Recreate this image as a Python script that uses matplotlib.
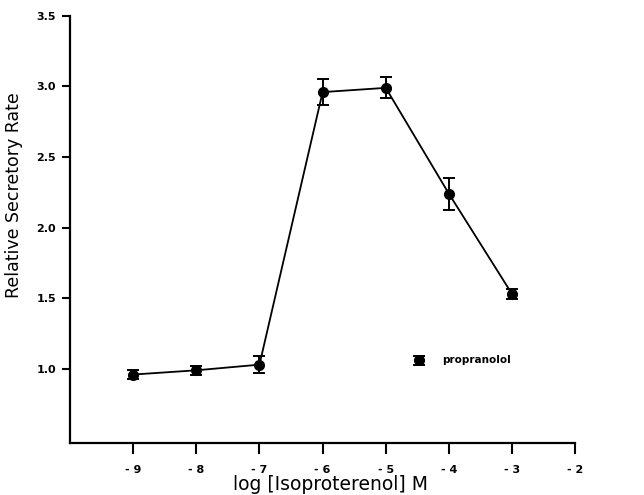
import numpy as np
import matplotlib
matplotlib.use("Agg")
import matplotlib.pyplot as plt

# data
log_conc = [-9, -8, -7, -6, -5, -4, -3]
rate = [0.96, 0.99, 1.03, 2.96, 2.99, 2.24, 1.53]
rate_err = [0.03, 0.03, 0.06, 0.09, 0.075, 0.115, 0.035]
prop_x = [-4.48]
prop_y = [1.06]
prop_err = [0.03]
xticks = [-9, -8, -7, -6, -5, -4, -3, -2]
xtick_labels = ['- 9', '- 8', '- 7', '- 6', '- 5', '- 4', '- 3', '- 2']
yticks = [1.0, 1.5, 2.0, 2.5, 3.0, 3.5]
ytick_labels = ['1.0', '1.5', '2.0', '2.5', '3.0', '3.5']

def main():
    plt.rcParams['font.family'] = ['DejaVu Sans']
    fig = plt.figure(figsize=(6.44, 4.95), dpi=100)
    ax = fig.add_axes([0.1087, 0.105, 0.7845, 0.863])

    ax.errorbar(log_conc, rate, yerr=rate_err, fmt='o-', color='black', ms=7,
                lw=1.3, elinewidth=1.4, capsize=4, capthick=1.4)
    ax.errorbar(prop_x, prop_y, yerr=prop_err, fmt='o', color='black', ms=7,
                elinewidth=1.4, capsize=4, capthick=1.4)
    ax.text(prop_x[0] + 0.37, prop_y[0], 'propranolol', fontsize=7.5,
            fontweight='bold', va='center', ha='left')

    ax.set_xlim(-10, -2)
    ax.set_ylim(0.475, 3.5)
    ax.set_xticks(xticks)
    ax.set_xticklabels(xtick_labels, fontsize=8, fontweight='bold')
    ax.set_yticks(yticks)
    ax.set_yticklabels(ytick_labels, fontsize=8, fontweight='bold')
    ax.tick_params(axis='x', direction='out', length=8, width=1.5, pad=8)
    ax.tick_params(axis='y', direction='out', length=6, width=1.5, pad=4)

    for s in ['top', 'right']:
        ax.spines[s].set_visible(False)
    for s in ['left', 'bottom']:
        ax.spines[s].set_linewidth(1.6)

    ax.set_xlabel('log [Isoproterenol] M', fontsize=13.5, labelpad=0)
    ax.set_ylabel('Relative Secretory Rate', fontsize=12.5)
    ax.yaxis.set_label_coords(-0.093, 0.58)
    ax.xaxis.set_label_coords(0.515, -0.075)

    plt.savefig('out.png', dpi=100)

if __name__ == '__main__':
    main()
